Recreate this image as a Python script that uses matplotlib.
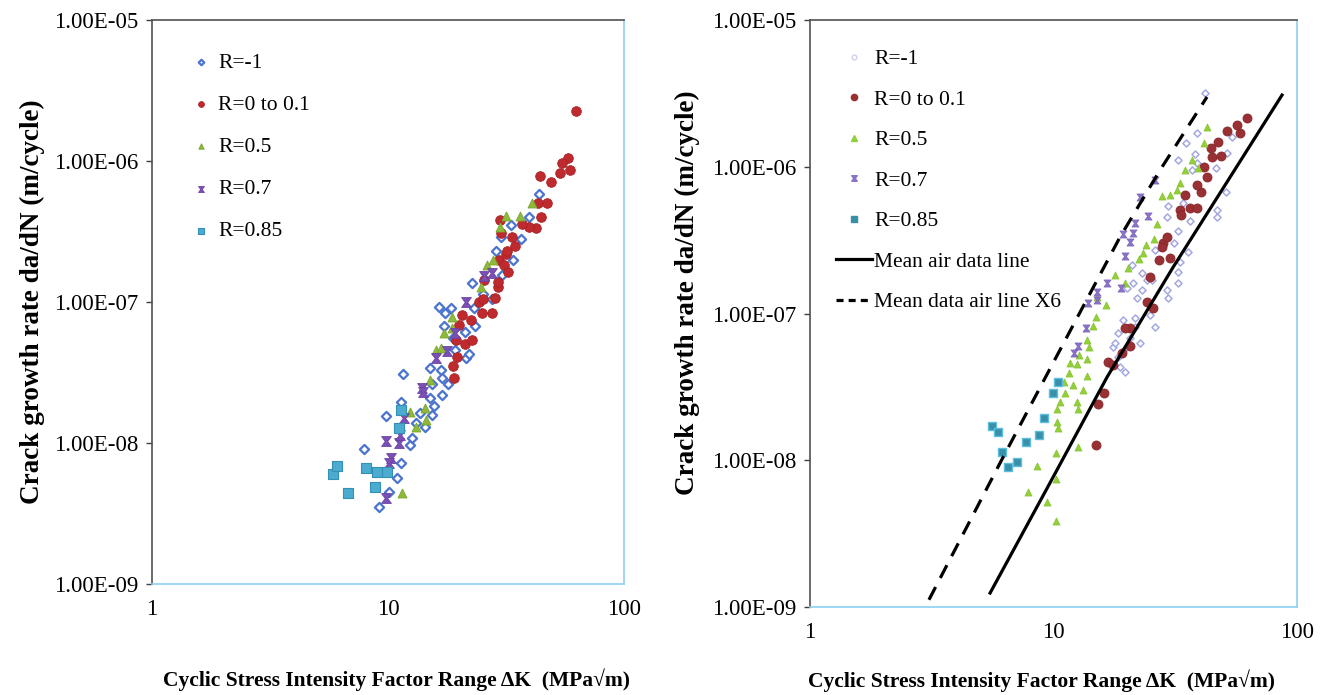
import matplotlib
matplotlib.use("Agg")
import matplotlib.pyplot as plt
from matplotlib.path import Path
from matplotlib.ticker import FixedLocator, FuncFormatter, NullLocator
from matplotlib.lines import Line2D

plt.rcParams['font.family'] = ['Liberation Serif', 'DejaVu Serif']

# ---------------- data: left panel ----------------
L_m1_dk = [9.12, 10.05, 10.97, 11.4, 7.95, 9.76, 11.4, 11.6, 12.45, 12.7, 13.1, 13.6, 14.3, 15.4, 15.6,
           15.0, 15.0, 16.8, 17.0, 17.9, 17.0, 15.4, 16.4, 17.5, 18.5, 17.2, 18.9, 21.3, 23.4, 21.5,
           22.1, 22.8, 25.3, 27.7, 30.5, 33.9, 28.8, 23.2, 19.3, 43.7, 39.6, 33.3, 36.7, 30.2]
L_m1_rate = [3.5e-9, 4.5e-9, 5.65e-9, 7.2e-9, 9.1e-9, 1.55e-8, 1.95e-8, 3.1e-8, 9.7e-9, 1.08e-8, 1.39e-8,
             1.63e-8, 1.30e-8, 1.58e-8, 1.83e-8, 2.1e-8, 3.4e-8, 3.3e-8, 2.9e-8, 2.6e-8, 2.2e-8, 2.6e-8,
             9.2e-8, 8.4e-8, 9.1e-8, 6.8e-8, 5.6e-8, 6.1e-8, 6.8e-8, 4.0e-8, 4.3e-8, 1.36e-7, 1.14e-7,
             1.05e-7, 1.55e-7, 2.0e-7, 2.3e-7, 9.1e-8, 4.6e-8, 5.8e-7, 4.0e-7, 3.5e-7, 2.8e-7, 2.9e-7]

L_r0_dk = [18.9, 19.1, 19.7, 19.5, 21.3, 22.8, 19.9, 20.5, 22.5, 24.4, 25.3, 25.1, 27.7, 28.5, 29.3,
           29.3, 25.6, 29.6, 31.1, 32.3, 31.7, 62.7, 58.0, 54.7, 59.1, 53.6, 44.2, 49.1, 47.2, 43.3,
           44.6, 42.5, 39.6, 37.0, 33.6, 34.6, 32.0, 29.9, 30.2]
L_r0_rate = [3.5e-8, 2.9e-8, 4.1e-8, 5.4e-8, 5.0e-8, 5.4e-8, 6.9e-8, 8.1e-8, 7.4e-8, 1.0e-7, 1.05e-7,
             8.4e-8, 8.4e-8, 1.07e-7, 1.28e-7, 1.39e-7, 1.43e-7, 1.99e-7, 1.83e-7, 1.63e-7, 2.2e-7,
             2.26e-6, 1.05e-6, 9.7e-7, 8.6e-7, 8.2e-7, 7.8e-7, 7.1e-7, 5.0e-7, 5.0e-7, 4.0e-7, 3.35e-7,
             3.4e-7, 3.6e-7, 2.9e-7, 2.5e-7, 2.3e-7, 3.8e-7, 3.1e-7]

L_r05_dk = [11.5, 12.45, 14.3, 14.5, 13.2, 15.1, 15.9, 16.8, 17.2, 18.7, 18.7, 24.8, 26.4, 27.9, 40.8,
            36.3, 31.7, 29.9]
L_r05_rate = [4.4e-9, 1.66e-8, 1.77e-8, 1.46e-8, 1.30e-8, 2.8e-8, 4.6e-8, 4.7e-8, 6.0e-8, 6.5e-8, 7.8e-8,
              1.28e-7, 1.83e-7, 1.99e-7, 5.0e-7, 4.1e-7, 4.1e-7, 3.4e-7]

L_r07_dk = [9.85, 9.76, 10.25, 10.1, 11.1, 11.2, 11.7, 14.0, 14.1, 15.9, 17.7, 19.3, 21.5, 25.6, 27.7]
L_r07_rate = [4.1e-9, 1.03e-8, 7.8e-9, 7.2e-9, 1.0e-8, 1.14e-8, 1.5e-8, 2.45e-8, 2.3e-8, 4.0e-8, 4.5e-8,
              6.0e-8, 1.0e-7, 1.53e-7, 1.6e-7]

L_r085_dk = [5.83, 6.06, 6.74, 8.03, 8.77, 8.94, 9.95, 11.1, 11.4]
L_r085_rate = [6.0e-9, 6.9e-9, 4.4e-9, 6.6e-9, 4.9e-9, 6.2e-9, 6.2e-9, 1.28e-8, 1.71e-8]

# ---------------- data: right panel ----------------
R_m1_dk = [41.90, 38.84, 35.01, 38.12, 32.46, 46.48, 51.58, 54.08, 37.06, 29.53, 34.03, 29.25, 36.36,
           32.46, 46.92, 46.92, 51.09, 26.11, 31.26, 35.68, 21.01, 23.09, 21.21, 20.04, 23.09, 25.38,
           29.25, 29.53, 32.46, 33.08, 32.46, 19.29, 21.61, 26.11, 24.91, 22.66, 17.56, 18.41, 18.76,
           19.66, 24.21, 22.03, 21.61, 18.41, 20.62, 20.04, 18.76, 17.89, 38.84]
R_m1_rate = [3.18e-6, 1.70e-6, 1.45e-6, 1.22e-6, 1.11e-6, 9.8e-7, 1.24e-6, 1.60e-6, 9.5e-7, 5.4e-7,
             5.66e-7, 4.55e-7, 4.27e-7, 3.65e-7, 5.07e-7, 4.55e-7, 6.7e-7, 2.71e-7, 3.02e-7, 2.62e-7,
             2.14e-7, 1.89e-7, 1.61e-7, 1.49e-7, 1.45e-7, 1.69e-7, 1.45e-7, 1.28e-7, 1.61e-7, 2.24e-7,
             1.92e-7, 9.0e-8, 8.1e-8, 8.1e-8, 9.8e-8, 6.3e-8, 5.9e-8, 5.05e-8, 4.32e-8, 3.99e-8,
             1.69e-7, 1.28e-7, 9.3e-8, 7.36e-8, 6.8e-8, 5.9e-8, 5.21e-8, 6.3e-8, 1.06e-6]

R_r0_dk = [14.95, 15.23, 16.12, 16.74, 17.56, 19.11, 20.62, 20.62, 19.66, 24.21, 25.62, 24.91, 27.12,
           30.09, 28.17, 29.25, 27.90, 33.08, 33.39, 36.36, 38.84, 34.68, 40.34, 38.84, 42.70, 41.50,
           44.76, 48.73, 44.36, 47.37, 51.58, 58.33, 56.70, 62.33]
R_r0_rate = [1.27e-8, 2.42e-8, 2.87e-8, 4.67e-8, 4.46e-8, 5.38e-8, 6.0e-8, 7.96e-8, 7.96e-8, 1.20e-7,
             1.09e-7, 1.77e-7, 2.32e-7, 2.39e-7, 3.02e-7, 3.32e-7, 2.84e-7, 5.07e-7, 4.69e-7, 5.24e-7,
             5.24e-7, 6.4e-7, 6.7e-7, 7.5e-7, 8.5e-7, 9.96e-7, 1.16e-6, 1.18e-6, 1.34e-6, 1.47e-6,
             1.75e-6, 1.70e-6, 1.92e-6, 2.15e-6]

R_r05_dk = [10.24, 9.40, 7.86, 10.24, 8.55, 10.24, 12.61, 10.43, 10.34, 10.34, 12.61, 10.63, 12.49,
            11.15, 13.22, 12.03, 11.04, 13.73, 11.58, 11.70, 12.49, 13.73, 12.73, 13.99, 13.73, 14.53,
            14.95, 16.43, 15.09, 17.89, 19.66, 20.23, 22.44, 23.31, 23.98, 25.86, 26.61, 27.90, 30.09,
            32.16, 33.08, 34.68, 39.21, 37.06, 41.50, 42.70]
R_r05_rate = [3.86e-9, 5.19e-9, 6.08e-9, 7.45e-9, 9.1e-9, 1.12e-8, 1.23e-8, 1.66e-8, 1.82e-8, 2.23e-8,
              2.23e-8, 2.49e-8, 2.49e-8, 2.87e-8, 3.01e-8, 3.26e-8, 3.41e-8, 3.75e-8, 3.93e-8, 4.6e-8,
              4.53e-8, 4.9e-8, 5.21e-8, 5.9e-8, 6.6e-8, 8.2e-8, 9.5e-8, 1.14e-7, 1.30e-7, 1.83e-7,
              1.61e-7, 2.04e-7, 2.35e-7, 2.58e-7, 2.93e-7, 3.22e-7, 4.07e-7, 6.3e-7, 6.4e-7, 6.95e-7,
              7.75e-7, 9.5e-7, 9.8e-7, 1.11e-6, 1.45e-6, 1.87e-6]

R_r07_dk = [26.11, 22.66, 24.44, 21.61, 21.21, 19.29, 20.62, 19.66, 16.59, 18.93, 15.09, 15.09, 13.86,
            13.60, 12.61, 12.14]
R_r07_rate = [8.1e-7, 6.2e-7, 4.6e-7, 4.14e-7, 3.54e-7, 3.48e-7, 3.07e-7, 2.47e-7, 1.61e-7, 1.49e-7,
              1.40e-7, 1.24e-7, 1.18e-7, 7.96e-8, 6.0e-8, 5.38e-8]

R_r085_dk = [5.59, 5.92, 6.14, 6.50, 7.08, 7.71, 8.72, 9.14, 9.95, 10.43]
R_r085_rate = [1.71e-8, 1.56e-8, 1.14e-8, 9.0e-9, 9.7e-9, 1.33e-8, 1.49e-8, 1.94e-8, 2.87e-8, 3.41e-8]

air_dk = [5.49, 9.67, 16.6, 31.0, 86.8]
air_rate = [1.245e-9, 7.0e-9, 3.69e-8, 2.07e-7, 3.08e-6]
x6_dk = [3.08, 6.03, 10.63, 18.76, 27.4, 42.7]
x6_rate = [1.12e-9, 9.57e-9, 5.64e-8, 3.32e-7, 9.5e-7, 2.99e-6]

labels = ['R=-1', 'R=0 to 0.1', 'R=0.5', 'R=0.7', 'R=0.85']
yticks = [1e-9, 1e-8, 1e-7, 1e-6, 1e-5]
xticks = [1, 10, 100]

# hourglass marker
hourglass = Path([(-1, 1), (1, 1), (0.25, 0), (1, -1), (-1, -1), (-0.25, 0), (-1, 1)],
                 [Path.MOVETO, Path.LINETO, Path.LINETO, Path.LINETO, Path.LINETO, Path.LINETO,
                  Path.CLOSEPOLY])

fig = plt.figure(figsize=(13.24, 6.95), dpi=100)
axL = fig.add_axes([152/1324, 1-584/695, 472/1324, 564/695])
axR = fig.add_axes([810/1324, 1-607/695, 487/1324, 587/695])

def style(ax):
    ax.set_xscale('log')
    ax.set_yscale('log')
    ax.set_xlim(1, 100)
    ax.set_ylim(1e-9, 1e-5)
    ax.xaxis.set_major_locator(FixedLocator(xticks))
    ax.xaxis.set_minor_locator(NullLocator())
    ax.yaxis.set_major_locator(FixedLocator(yticks))
    ax.yaxis.set_minor_locator(NullLocator())
    ax.xaxis.set_major_formatter(FuncFormatter(lambda v, p: f"{v:g}"))
    ax.yaxis.set_major_formatter(FuncFormatter(lambda v, p: f"{v:.2E}"))
    ax.tick_params(axis='y', direction='out', length=4, width=1, color='#404040',
                   labelsize=16.5, pad=6)
    ax.tick_params(axis='x', length=0, labelsize=16.5, pad=11)
    for s in ('left', 'top'):
        ax.spines[s].set_color('#505050')
        ax.spines[s].set_linewidth(1.2)
    for s in ('right', 'bottom'):
        ax.spines[s].set_color('#8ECFF0')
        ax.spines[s].set_linewidth(1.2)
    ax.set_ylabel('Crack growth rate da/dN (m/cycle)', fontsize=19.5, fontweight='bold')
    ax.set_xlabel('Cyclic Stress Intensity Factor Range \u0394K  (MPa\u221am)', fontsize=15.5,
                  fontweight='bold')

style(axL)
style(axR)

# left panel
axL.scatter(L_m1_dk, L_m1_rate, marker='D', s=22, facecolor='white', edgecolor='#4A74CF',
            linewidth=1.6, label=labels[0], zorder=3)
axL.scatter(L_r0_dk, L_r0_rate, marker='o', s=48, color='#BE2A2E', edgecolor='#A82226',
            linewidth=0.6, label=labels[1], zorder=3)
axL.scatter(L_r05_dk, L_r05_rate, marker='^', s=42, color='#8DB93C', edgecolor='#7AA52E',
            linewidth=0.6, label=labels[2], zorder=3)
axL.scatter(L_r07_dk, L_r07_rate, marker=hourglass, s=50, color='#7B50B5', edgecolor='#6A40A5',
            linewidth=0.6, label=labels[3], zorder=3)
axL.scatter(L_r085_dk, L_r085_rate, marker='s', s=44, color='#4BACCF', edgecolor='#3590B5',
            linewidth=0.8, label=labels[4], zorder=3)

axL.legend(loc='upper left', bbox_to_anchor=((190-152)/472, (584-53)/564), frameon=False,
           fontsize=15.5, handlelength=1.0, handletextpad=0.3, labelspacing=1.02,
           borderpad=0, borderaxespad=0, markerscale=0.6, scatterpoints=1)

# right panel
axR.scatter(R_m1_dk, R_m1_rate, marker='D', s=13, facecolor='white', edgecolor='#A4A8E0',
            linewidth=1.1, zorder=3)
axR.scatter(R_r0_dk, R_r0_rate, marker='o', s=42, color='#983034', edgecolor='#88262A',
            linewidth=0.6, zorder=3)
axR.scatter(R_r05_dk, R_r05_rate, marker='^', s=26, color='#93CF3A', edgecolor='#86C22F',
            linewidth=0.5, zorder=3)
axR.scatter(R_r07_dk, R_r07_rate, marker=hourglass, s=26, color='#8A72C8', edgecolor='#7A62B8',
            linewidth=0.5, zorder=3)
axR.scatter(R_r085_dk, R_r085_rate, marker='s', s=26, color='#3A8FA8', edgecolor='#5BC0E0',
            linewidth=1.0, zorder=3)
axR.plot(air_dk, air_rate, color='black', linewidth=2.3, zorder=4)
axR.plot(x6_dk, x6_rate, color='black', linewidth=2.3, linestyle=(0, (4.5, 3.2)), zorder=4)

handlesR = [
    Line2D([], [], linestyle='none', marker='o', markersize=3.5, markerfacecolor='white',
           markeredgecolor='#C8C8E8', markeredgewidth=0.8),
    Line2D([], [], linestyle='none', marker='o', markersize=4.5, color='#983034'),
    Line2D([], [], linestyle='none', marker='^', markersize=4.5, color='#93CF3A'),
    Line2D([], [], linestyle='none', marker=hourglass, markersize=4, color='#8A72C8'),
    Line2D([], [], linestyle='none', marker='s', markersize=4, color='#3A8FA8'),
    Line2D([], [], color='black', linewidth=2.3),
    Line2D([], [], color='black', linewidth=2.3, linestyle=(0, (2.2, 1.6))),
]
labelsR = labels + ['Mean air data line', 'Mean data air line X6']
axR.legend(handlesR, labelsR, loc='upper left', bbox_to_anchor=((836-810)/487, (607-49)/587),
           frameon=False, fontsize=15.5, handlelength=1.65, handletextpad=0.12, labelspacing=0.95,
           borderpad=0, borderaxespad=0)

axL.yaxis.set_label_coords(-0.227, 0.50)
axL.xaxis.set_label_coords(0.517, -0.149)
axR.yaxis.set_label_coords(-0.226, 0.535)
axR.xaxis.set_label_coords(0.476, -0.107)

fig.savefig('out.png', dpi=100)
